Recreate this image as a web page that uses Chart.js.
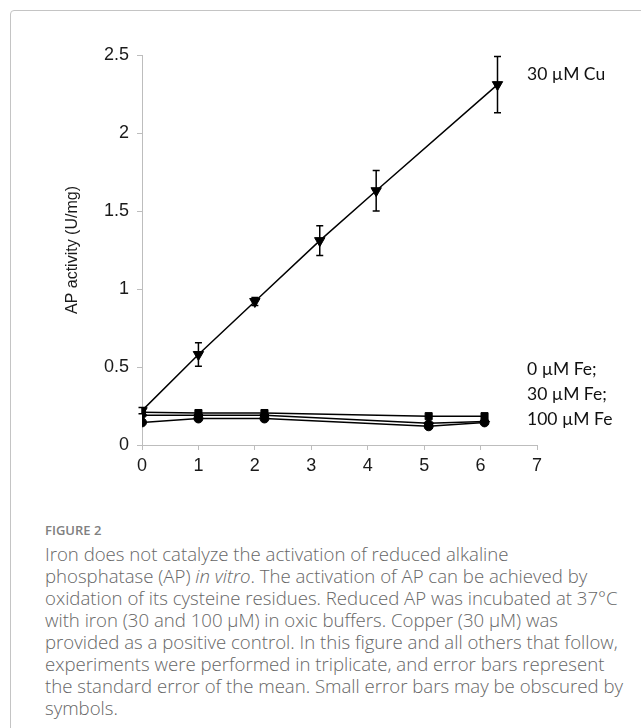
<!DOCTYPE html>
<html>
<head>
<meta charset="utf-8">
<script src="https://cdn.jsdelivr.net/npm/chart.js@4"></script>
<style>
  html, body { margin: 0; padding: 0; background: #fff; }
  body { width: 641px; height: 728px; position: relative; overflow: hidden; }
  #frame { position: absolute; left: 10px; top: 10px; width: 700px; height: 800px;
           border: 1px solid #c4c4c4; border-radius: 4px; }
  #wrap { position: absolute; left: 0; top: 0; width: 641px; height: 502px; }
  .note { position: absolute; font-family: Lato, "Open Sans", sans-serif; font-size: 17.5px;
          color: #111; white-space: nowrap; line-height: 25px; }
  #figlabel { position: absolute; left: 45px; top: 521px; font-family: "Open Sans", sans-serif;
              font-size: 13px; line-height: 18px; font-weight: 600; color: #808080; }
  #caption { position: absolute; left: 45px; top: 543px; font-family: "Open Sans", sans-serif;
             font-size: 18.6px; font-weight: 300; line-height: 22px; color: #666; white-space: nowrap; }
</style>
</head>
<body>
<div id="frame"></div>
<div id="wrap"><canvas id="chart" width="641" height="502"></canvas></div>

<div class="note" style="left:527px; top:61px;">30 µM Cu</div>
<div class="note" style="left:527px; top:356px;">0 µM Fe;<br>30 µM Fe;<br>100 µM Fe</div>

<div id="figlabel">FIGURE 2</div>
<div id="caption">Iron does not catalyze the activation of reduced alkaline<br>phosphatase (AP) <i>in vitro</i>. The activation of AP can be achieved by<br>oxidation of its cysteine residues. Reduced AP was incubated at 37°C<br>with iron (30 and 100 µM) in oxic buffers. Copper (30 µM) was<br>provided as a positive control. In this figure and all others that follow,<br>experiments were performed in triplicate, and error bars represent<br>the standard error of the mean. Small error bars may be obscured by<br>symbols.</div>

<script>
// Datos
const cuX = [0, 1, 2, 3.15, 4.15, 6.3];
const cuY = [0.22, 0.58, 0.92, 1.31, 1.63, 2.31];
const cuErr = [0.02, 0.075, 0.025, 0.095, 0.13, 0.18];

const feX = [0, 1, 2.17, 5.08, 6.07];
const fe0Y = [0.21, 0.205, 0.205, 0.185, 0.185];
const fe30Y = [0.19, 0.19, 0.19, 0.14, 0.15];
const fe100Y = [0.145, 0.17, 0.17, 0.12, 0.145];

const xTicks = [0, 1, 2, 3, 4, 5, 6, 7];
const yTicks = [0, 0.5, 1, 1.5, 2, 2.5];

const toPoints = (xs, ys) => xs.map((x, i) => ({ x: x, y: ys[i] }));

// Plugin para dibujar las barras de error
const errorBars = {
    id: 'errorBars',
    afterDatasetsDraw(chart) {
        const { ctx, scales: { x, y } } = chart;
        ctx.save();
        ctx.strokeStyle = '#000';
        ctx.lineWidth = 1.5;
        cuX.forEach((v, i) => {
            const px = x.getPixelForValue(v);
            const top = y.getPixelForValue(cuY[i] + cuErr[i]);
            const bot = y.getPixelForValue(cuY[i] - cuErr[i]);
            ctx.beginPath();
            ctx.moveTo(px, top); ctx.lineTo(px, bot);
            ctx.moveTo(px - 3.5, top); ctx.lineTo(px + 3.5, top);
            ctx.moveTo(px - 3.5, bot); ctx.lineTo(px + 3.5, bot);
            ctx.stroke();
        });
        ctx.restore();
    }
};

const lineStyle = {
    borderColor: '#000',
    backgroundColor: '#000',
    pointBackgroundColor: '#000',
    pointBorderColor: '#000',
    borderWidth: 1.5,
    pointBorderWidth: 1,
    tension: 0
};

const tickFont = { family: '"Liberation Sans", Arial, sans-serif', size: 18 };

new Chart(document.getElementById('chart'), {
    type: 'line',
    data: {
        datasets: [
            { ...lineStyle, label: '30 µM Cu', data: toPoints(cuX, cuY), pointStyle: 'triangle', rotation: 180, pointRadius: 6 },
            { ...lineStyle, label: '0 µM Fe', data: toPoints(feX, fe0Y), pointStyle: 'rect', pointRadius: 5 },
            { ...lineStyle, label: '30 µM Fe', data: toPoints(feX, fe30Y), pointStyle: 'rectRot', pointRadius: 5 },
            { ...lineStyle, label: '100 µM Fe', data: toPoints(feX, fe100Y), pointStyle: 'circle', pointRadius: 4.5 }
        ]
    },
    options: {
        responsive: false,
        animation: false,
        layout: { padding: { left: 63, top: 55, right: 104, bottom: 0 } },
        plugins: { legend: { display: false }, tooltip: { enabled: false } },
        scales: {
            x: {
                type: 'linear',
                min: 0, max: 7,
                afterBuildTicks: s => { s.ticks = xTicks.map(v => ({ value: v })); },
                afterFit: s => { s.height = 57; },
                border: { color: '#bdbdbd', width: 1 },
                grid: { drawOnChartArea: false, drawTicks: true, tickLength: 5, color: '#bdbdbd' },
                ticks: { color: '#1a1a1a', padding: 5, font: tickFont, callback: v => String(v) }
            },
            y: {
                type: 'linear',
                min: 0, max: 2.5,
                afterBuildTicks: s => { s.ticks = yTicks.map(v => ({ value: v })); },
                afterFit: s => { s.width = 79; },
                border: { color: '#bdbdbd', width: 1 },
                grid: { drawOnChartArea: false, drawTicks: true, tickLength: 5, color: '#bdbdbd' },
                ticks: { color: '#1a1a1a', padding: 8, font: tickFont, callback: v => String(v) },
                title: {
                    display: true,
                    text: 'AP activity (U/mg)',
                    color: '#1a1a1a',
                    padding: { top: 0, bottom: 0 },
                    font: { family: '"Liberation Sans", Arial, sans-serif', size: 16 }
                }
            }
        }
    },
    plugins: [errorBars]
});
</script>
</body>
</html>
